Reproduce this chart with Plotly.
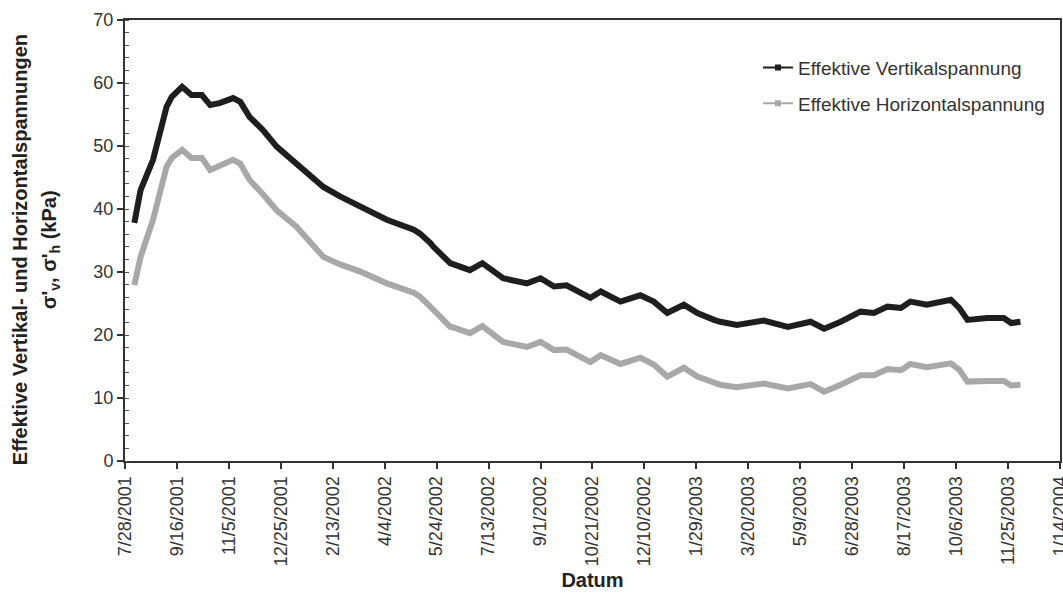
import plotly.graph_objects as go

# Messdaten: Datum und effektive Spannungen (kPa)
datum = [
    "2001-08-06", "2001-08-12", "2001-08-24", "2001-09-06", "2001-09-11", "2001-09-21",
    "2001-09-30", "2001-10-10", "2001-10-18", "2001-10-27", "2001-11-09", "2001-11-16",
    "2001-11-25", "2001-12-08", "2001-12-21", "2002-01-09", "2002-02-04", "2002-02-20",
    "2002-03-11", "2002-04-06", "2002-05-02", "2002-05-08", "2002-05-18", "2002-05-21",
    "2002-06-06", "2002-06-09", "2002-06-25", "2002-07-07", "2002-07-27", "2002-08-19",
    "2002-09-01", "2002-09-14", "2002-09-26", "2002-10-19", "2002-10-29", "2002-11-17",
    "2002-12-06", "2002-12-19", "2003-01-01", "2003-01-17", "2003-01-30", "2003-02-15",
    "2003-02-21", "2003-03-09", "2003-03-12", "2003-04-04", "2003-04-27", "2003-05-19",
    "2003-06-01", "2003-06-17", "2003-07-06", "2003-07-19", "2003-08-01", "2003-08-14",
    "2003-08-23", "2003-09-08", "2003-10-01", "2003-10-09", "2003-10-17", "2003-11-05",
    "2003-11-21", "2003-11-28", "2003-12-07",
]

sigma_v = [
    37.8, 43.0, 47.8, 56.2, 57.8, 59.4,
    58.1, 58.1, 56.5, 56.8, 57.6, 57.0,
    54.6, 52.5, 49.9, 47.3, 43.5, 42.0,
    40.4, 38.3, 36.7, 36.1, 34.6, 34.0,
    31.4, 31.2, 30.3, 31.4, 29.0, 28.2,
    29.0, 27.7, 27.9, 25.9, 26.9, 25.3,
    26.3, 25.3, 23.5, 24.8, 23.5, 22.4,
    22.1, 21.6, 21.7, 22.3, 21.3, 22.1,
    21.0, 22.1, 23.7, 23.5, 24.5, 24.3,
    25.3, 24.8, 25.6, 24.3, 22.4, 22.7,
    22.7, 21.9, 22.1,
]

sigma_h = [
    27.9, 32.4, 38.3, 46.7, 48.1, 49.4,
    48.1, 48.1, 46.2, 46.8, 47.8, 47.2,
    44.6, 42.3, 39.8, 37.2, 32.4, 31.2,
    30.1, 28.2, 26.7, 26.1, 24.6, 24.0,
    21.3, 21.2, 20.3, 21.4, 18.9, 18.1,
    18.9, 17.6, 17.7, 15.7, 16.8, 15.4,
    16.4, 15.3, 13.4, 14.8, 13.4, 12.4,
    12.1, 11.7, 11.8, 12.3, 11.5, 12.2,
    11.0, 12.1, 13.6, 13.6, 14.6, 14.4,
    15.4, 14.9, 15.5, 14.5, 12.6, 12.7,
    12.7, 12.0, 12.1,
]

namen = ["Effektive Vertikalspannung", "Effektive Horizontalspannung"]
farben = ["#1e1e1e", "#a8a8a8"]

FONT = "Liberation Sans, Arial, sans-serif"
TEXT = "#333333"
TITLE = "#222222"
DAY_MS = 86400000

fig = go.Figure()

for i, werte in enumerate([sigma_v, sigma_h]):
    # dicke Messkurve
    fig.add_trace(go.Scatter(
        x=datum, y=werte, mode="lines",
        line=dict(color=farben[i], width=6),
        showlegend=False, hoverinfo="x+y",
    ))
    # Legendeneintrag mit dünner Linie und Quadrat-Marker
    fig.add_trace(go.Scatter(
        x=[None], y=[None], mode="lines+markers",
        name=namen[i], legendgroup=f"g{i}",
        line=dict(color=farben[i], width=2),
        marker=dict(symbol="square", size=6, color=farben[i]),
    ))

# Achsentitel der y-Achse in zwei Zeilen
fig.add_annotation(
    text="<b>Effektive Vertikal- und Horizontalspannungen</b>",
    xref="paper", yref="paper", x=0, y=0.478, xshift=-105,
    xanchor="center", yanchor="middle",
    textangle=-90, showarrow=False,
    font=dict(size=20, color=TITLE),
)
fig.add_annotation(
    text="<b>σ'<sub>v</sub>, σ'<sub>h</sub> (kPa)</b>",
    xref="paper", yref="paper", x=0, y=0.478, xshift=-75,
    xanchor="center", yanchor="middle",
    textangle=-90, showarrow=False,
    font=dict(size=20, color=TITLE),
)

fig.update_layout(
    width=1063, height=593,
    margin=dict(l=125, r=3, t=20, b=132, autoexpand=False),
    paper_bgcolor="white", plot_bgcolor="white",
    font=dict(family=FONT, size=18, color=TEXT),
    legend=dict(
        x=0.677, y=0.935, xanchor="left", yanchor="top",
        bgcolor="rgba(0,0,0,0)", font=dict(size=19, color=TEXT),
        tracegroupgap=8, itemwidth=30,
    ),
    xaxis=dict(
        type="date", automargin=False,
        range=["2001-07-28", "2004-01-14 02:00"],
        tick0="2001-07-28", dtick=50 * DAY_MS,
        tickformat="%-m/%-d/%Y", tickangle=-90,
        ticklabeloverflow="allow",
        ticks="outside", ticklen=6, tickwidth=1.5, tickcolor="#333333",
        showline=True, linewidth=2, linecolor="#333333", mirror=True,
        showgrid=False, zeroline=False,
        title=dict(text="<b>Datum</b>", font=dict(size=20, color=TITLE), standoff=8),
    ),
    yaxis=dict(
        range=[0, 70], dtick=10, automargin=False,
        ticks="outside", ticklen=6, tickwidth=1.5, tickcolor="#333333",
        minor=dict(dtick=2, ticks="inside", ticklen=4, tickwidth=1, tickcolor="#555555"),
        showline=True, linewidth=2, linecolor="#333333", mirror=True,
        showgrid=False, zeroline=False,
    ),
)

fig.write_html("out.html")
